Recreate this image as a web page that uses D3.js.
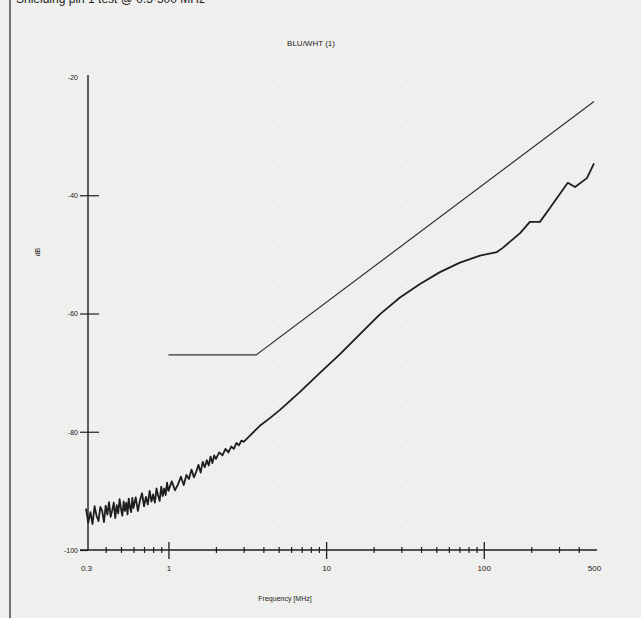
<!DOCTYPE html>
<html>
<head>
<meta charset="utf-8">
<script src="https://cdn.jsdelivr.net/npm/d3@7/dist/d3.min.js"></script>
<style>
  html, body { margin: 0; padding: 0; background: #efefed; }
  svg { display: block; }
  text { font-family: "Liberation Sans", Arial, sans-serif; fill: #222; }
</style>
</head>
<body>
<svg id="chart" width="641" height="618"></svg>
<script>
// Measured coupling, frequency in MHz and level in dB
const freqMHz = [
  0.30, 0.31, 0.32, 0.33, 0.34, 0.35, 0.36, 0.37, 0.38, 0.39,
  0.40, 0.41, 0.42, 0.43, 0.44, 0.45, 0.46, 0.47, 0.48, 0.49,
  0.50, 0.51, 0.52, 0.53, 0.54, 0.55, 0.56, 0.57, 0.58, 0.59, 0.60,
  0.62, 0.64, 0.66, 0.68, 0.70, 0.72, 0.74, 0.76, 0.78, 0.80,
  0.82, 0.84, 0.86, 0.88, 0.90, 0.92, 0.94, 0.96, 0.98, 1.00,
  1.05, 1.10, 1.15, 1.20, 1.25, 1.30, 1.35, 1.40, 1.45, 1.50,
  1.55, 1.60, 1.65, 1.70, 1.75, 1.80, 1.85, 1.90, 1.95, 2.00,
  2.1, 2.2, 2.3, 2.4, 2.5, 2.6, 2.7, 2.8, 2.9, 3.0,
  3.3, 3.8, 4.4, 5.1, 6.8, 9.1, 12.2, 16.4, 22.0, 29.4,
  39.4, 52.7, 70.6, 94.6, 121, 132, 170, 196, 227, 262,
  341, 379, 451, 500
];
const levelDb = [
  -93.0, -95.4, -93.6, -95.6, -92.6, -94.2, -95.1, -92.7, -93.4, -95.3,
  -92.5, -94.0, -91.9, -94.4, -93.3, -92.0, -94.6, -92.4, -93.8, -91.4,
  -93.0, -94.2, -91.8, -93.4, -92.0, -94.0, -91.3, -92.8, -93.6, -91.2, -92.9,
  -91.1, -93.4, -91.6, -90.4, -92.6, -91.0, -92.3, -90.0, -91.8, -90.6,
  -92.0, -89.6, -90.8, -91.7, -89.3, -90.9, -89.6, -90.7, -88.6, -90.0,
  -88.4, -89.9, -88.9, -87.6, -89.0, -87.3, -88.0, -86.4, -87.7, -86.8,
  -85.6, -86.9, -85.1, -86.0, -84.8, -85.7, -84.2, -85.3, -84.0, -84.6,
  -83.5, -84.0, -82.9, -83.5, -82.5, -82.9, -81.9, -82.3, -81.5, -81.7,
  -80.6, -79.0, -77.7, -76.3, -73.3, -70.1, -66.9, -63.5, -60.1, -57.3,
  -55.0, -53.0, -51.4, -50.2, -49.6, -48.9, -46.4, -44.5, -44.5, -42.2,
  -37.9, -38.6, -37.1, -34.6
];

// Limit line: flat, then rising 20 dB per decade
const limitFreqMHz = [1, 3.6, 500];
const limitDb = [-67, -67, -24.15];

// Axis ticks
const majorFreqTicks = [0.3, 1, 10, 100, 500];
const majorFreqLabels = ["0.3", "1", "10", "100", "500"];
const minorFreqTicks = [0.4, 0.5, 0.6, 0.7, 0.8, 0.9,
  2, 3, 4, 5, 6, 7, 8, 9,
  20, 30, 40, 50, 60, 70, 80, 90,
  200, 300, 400];
const dbTicks = [-20, -40, -60, -80, -100];
const dbLabels = ["-20", "-40", "-60", "-80", "-100"];
const gridFreq = [3, 5, 30, 40];

const title = "BLU/WHT (1)";
const xTitle = "Frequency [MHz]";
const yTitle = "dB";
const pageHeading = "Shielding pin 1 test @ 0.3-500 MHz";

const svg = d3.select("#chart");
const ink = "#1e1e1e";

const x = d3.scaleLog().domain([0.3, 500]).range([86, 594]);
const y = d3.scaleLinear().domain([-100, -20]).range([550, 77]);

// page edge rule and heading running off the top
svg.append("line").attr("x1", 10).attr("x2", 10).attr("y1", 0).attr("y2", 618)
  .attr("stroke", "#555").attr("stroke-width", 1.6);
svg.append("text").attr("x", 16).attr("y", 3).attr("font-size", 12)
  .text(pageHeading);

// faint dotted grid
svg.append("g").selectAll("line").data(gridFreq).join("line")
  .attr("x1", d => x(d)).attr("x2", d => x(d))
  .attr("y1", y(-20)).attr("y2", y(-100))
  .attr("stroke", "#999").attr("stroke-width", 0.8)
  .attr("stroke-dasharray", "1,9").attr("opacity", 0.5);

// x axis: major ticks with labels
const xMajor = d3.axisBottom(x).tickValues(majorFreqTicks)
  .tickFormat((d, i) => majorFreqLabels[i]).tickSizeOuter(0).tickSizeInner(8).tickPadding(7);
const gx = svg.append("g").attr("transform", `translate(0,${y(-100)})`).call(xMajor);
gx.select(".domain").remove();
gx.selectAll(".tick line").attr("y1", -8).attr("y2", 9).attr("stroke", ink).attr("stroke-width", 1.3)
  .filter(d => d === 0.3 || d === 500).remove();
gx.selectAll(".tick text").attr("font-size", 8).attr("fill", ink);

// x axis: minor ticks
const xMinor = d3.axisBottom(x).tickValues(minorFreqTicks).tickFormat("").tickSizeOuter(0).tickSizeInner(3);
const gxm = svg.append("g").attr("transform", `translate(0,${y(-100)})`).call(xMinor);
gxm.select(".domain").remove();
gxm.selectAll(".tick line").attr("y1", -3).attr("y2", 3).attr("stroke", ink).attr("stroke-width", 1.2);

svg.append("line").attr("x1", 80).attr("x2", 597).attr("y1", y(-100)).attr("y2", y(-100))
  .attr("stroke", ink).attr("stroke-width", 1.4);

// y axis
const yAxis = d3.axisLeft(y).tickValues(dbTicks).tickFormat((d, i) => dbLabels[i])
  .tickSizeOuter(0).tickSizeInner(8).tickPadding(2);
const gy = svg.append("g").attr("transform", `translate(${x(0.3) + 2},0)`).call(yAxis);
gy.select(".domain").remove();
gy.selectAll(".tick line").attr("x2", d => (d === -20 || d === -100) ? 0 : 11)
  .attr("x1", d => d === -20 ? 0 : -8).attr("stroke", ink).attr("stroke-width", 1.2);
gy.selectAll(".tick text").attr("font-size", 7).attr("fill", ink);
svg.append("line").attr("x1", x(0.3) + 2).attr("x2", x(0.3) + 2).attr("y1", y(-20) - 2).attr("y2", y(-100))
  .attr("stroke", ink).attr("stroke-width", 1.4);

// titles
svg.append("text").attr("x", 311).attr("y", 46).attr("text-anchor", "middle")
  .attr("font-size", 8).text(title);
svg.append("text").attr("x", 285).attr("y", 601).attr("text-anchor", "middle")
  .attr("font-size", 7).text(xTitle);
svg.append("text").attr("transform", "translate(40,252) rotate(-90)").attr("text-anchor", "middle")
  .attr("font-size", 7).text(yTitle);

// series
const line = d3.line().x(d => x(d[0])).y(d => y(d[1]));
svg.append("path").datum(limitFreqMHz.map((f, i) => [f, limitDb[i]]))
  .attr("d", line).attr("fill", "none").attr("stroke", "#333").attr("stroke-width", 1.2);
svg.append("path").datum(freqMHz.map((f, i) => [f, levelDb[i]]))
  .attr("d", line).attr("fill", "none").attr("stroke", ink).attr("stroke-width", 1.8)
  .attr("stroke-linejoin", "round");
</script>
</body>
</html>
